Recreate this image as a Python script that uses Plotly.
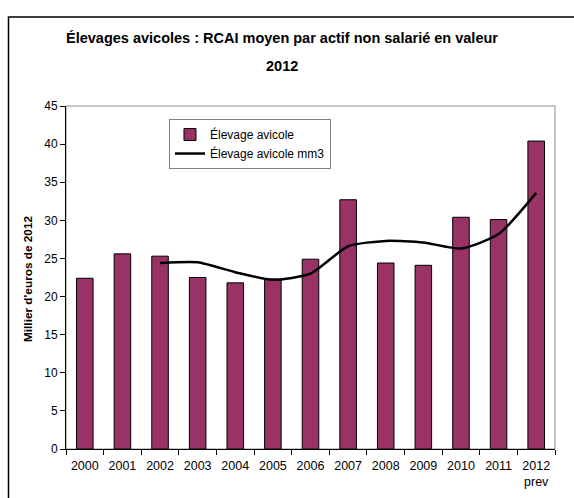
import plotly.graph_objects as go

# Categories and values (thousands of euros, 2012 constant)
years = ["2000", "2001", "2002", "2003", "2004", "2005", "2006",
         "2007", "2008", "2009", "2010", "2011", "2012"]
tick_labels = ["2000", "2001", "2002", "2003", "2004", "2005", "2006",
               "2007", "2008", "2009", "2010", "2011", "2012<br>prev"]
rcai = [22.4, 25.6, 25.3, 22.5, 21.8, 22.3, 24.9,
        32.7, 24.4, 24.1, 30.4, 30.1, 40.4]
# 3-year moving average (starts in 2002)
mm3_years = ["2002", "2003", "2004", "2005", "2006", "2007",
             "2008", "2009", "2010", "2011", "2012"]
mm3 = [24.4, 24.5, 23.2, 22.2, 23.0, 26.6, 27.3, 27.1, 26.3, 28.2, 33.6]

FONT = "Arial, Liberation Sans, sans-serif"

fig = go.Figure()
fig.add_trace(go.Bar(
    x=years, y=rcai, name="Élevage avicole",
    marker=dict(color="#993366", line=dict(color="#000000", width=1)),
))
fig.add_trace(go.Scatter(
    x=mm3_years, y=mm3, name="Élevage avicole mm3", mode="lines",
    line=dict(color="#000000", width=2.5, shape="spline", smoothing=0.6),
))

fig.update_layout(
    width=574, height=498,
    margin=dict(l=66, r=19, t=106, b=49),
    paper_bgcolor="white", plot_bgcolor="white",
    font=dict(family=FONT, size=12, color="#000000"),
    bargap=0.56,
    showlegend=True,
    legend=dict(
        x=0.2106, y=0.962, xanchor="left", yanchor="top",
        bgcolor="white", bordercolor="#808080", borderwidth=1,
        font=dict(family=FONT, size=12, color="#000000"),
        tracegroupgap=0, itemwidth=30,
    ),
    xaxis=dict(
        type="category", tickvals=years, ticktext=tick_labels,
        showline=True, linecolor="#000000", linewidth=1,
        ticks="outside", tickson="boundaries", ticklen=5,
        tickcolor="#000000", showgrid=False, zeroline=False,
        ticklabelstandoff=5, tickfont=dict(size=12.5), automargin=False,
    ),
    yaxis=dict(
        range=[0, 45], dtick=5, showline=True, linecolor="#000000",
        linewidth=1, ticks="outside", ticklen=5, tickcolor="#000000",
        showgrid=False, zeroline=False, tickfont=dict(size=12),
        automargin=False,
    ),
    shapes=[
        # plot area frame (grey on top and right)
        dict(type="rect", xref="paper", yref="paper", x0=0, y0=0, x1=1, y1=1,
             line=dict(color="#8c8c8c", width=1), layer="below"),
        # outer chart frame
        dict(type="rect", xref="paper", yref="paper",
             x0=-0.1176, y0=-0.2, x1=1.06, y1=1.2595,
             line=dict(color="#000000", width=1.5), layer="below"),
    ],
    annotations=[
        dict(text="<b>Élevages avicoles : RCAI moyen par actif non salarié en valeur</b>",
             xref="paper", yref="paper", x=0.4417, y=1.198,
             xanchor="center", yanchor="middle", showarrow=False,
             font=dict(family=FONT, size=14.5, color="#000000")),
        dict(text="<b>2012</b>",
             xref="paper", yref="paper", x=0.4417, y=1.1166,
             xanchor="center", yanchor="middle", showarrow=False,
             font=dict(family=FONT, size=14.5, color="#000000")),
        dict(text="<b>Millier d'euros de 2012</b>",
             xref="paper", yref="paper", x=-0.0777, y=0.4956,
             xanchor="center", yanchor="middle", textangle=-90,
             showarrow=False,
             font=dict(family=FONT, size=11.8, color="#000000")),
    ],
)

fig.write_html("out.html")
